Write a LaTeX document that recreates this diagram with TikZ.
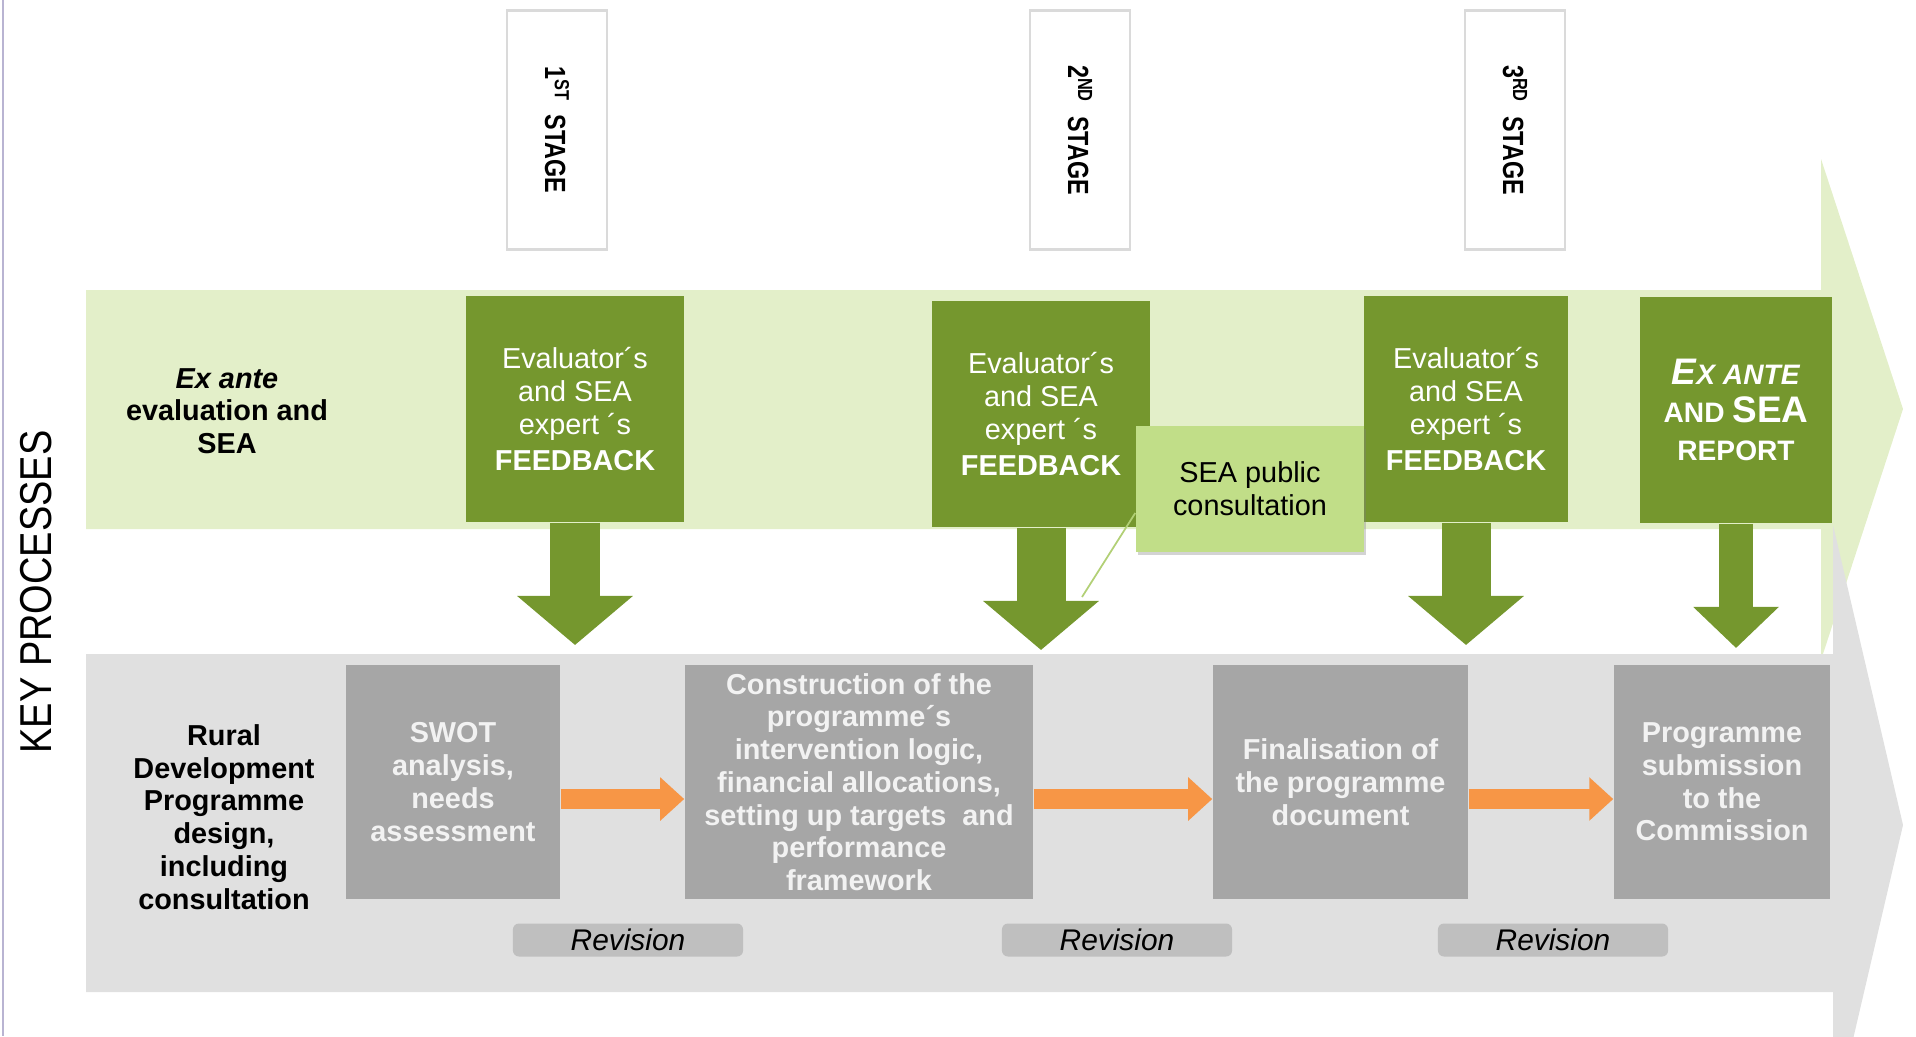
\documentclass[tikz,border=0pt]{standalone}
\usepackage{fontspec}
\setmainfont{Liberation Sans}
\usetikzlibrary{arrows.meta,shadows}
\definecolor{darkgreen}{RGB}{117,151,46}
\definecolor{palegreen}{RGB}{227,239,201}
\definecolor{seagreen}{RGB}{193,222,136}
\definecolor{bandgray}{RGB}{224,224,224}
\definecolor{boxgray}{RGB}{166,166,166}
\definecolor{pillgray}{RGB}{191,191,191}
\definecolor{arroworange}{RGB}{247,150,70}
\definecolor{stageline}{RGB}{218,218,218}
\definecolor{edgeline}{RGB}{185,180,210}
\newcommand{\txt}{\fontsize{8.2}{9.3}\selectfont}
\newcommand{\stagetxt}[2]{\fontsize{8.3}{10}\selectfont\bfseries\scalebox{0.8}[1]{#1\textsuperscript{#2}\ \ STAGE}}
\begin{document}
\begin{tikzpicture}
  [x=0.01cm,y=-0.01cm,
   stagebox/.style={draw=stageline,line width=0.8pt,fill=white,rotate=-90,minimum width=2.39cm,minimum height=1cm},
   feedback/.style={fill=darkgreen,text=white,align=center,minimum height=2.26cm,inner sep=0pt,font=\txt},
   process/.style={fill=boxgray,text=white!95!black,align=center,minimum height=2.34cm,inner sep=0pt,font=\txt\bfseries},
   revision/.style={fill=pillgray,rounded corners=0.06cm,minimum width=2.3cm,minimum height=0.33cm,inner sep=0pt,font=\fontsize{8.5}{10}\selectfont\itshape},
   bandlabel/.style={align=center,font=\txt\bfseries},
   greenarrow/.style={darkgreen,line width=0.49cm,-{Triangle[width=1.13cm,length=0.49cm]}},
   orangearrow/.style={arroworange,line width=0.2cm,-{Triangle[width=0.42cm,length=0.24cm]}}]
\useasboundingbox (0,0) rectangle (1916,1036);
\clip (0,0) rectangle (1916,1036);

\draw [edgeline,line width=0.4pt] (3,0) -- (3,1036);

\fill [palegreen] (86,290) -- (1821,290) -- (1821,159) -- (1903,409) -- (1821,660) -- (1821,529) -- (86,529) -- cycle;
\fill [bandgray] (86,654) -- (1833,654) -- (1833,525) -- (1903,825) -- (1833,1125) -- (1833,992) -- (86,992) -- cycle;

\node (kp) [rotate=90] at (36,592) {\fontsize{12.7}{14}\selectfont\scalebox{0.85}[1]{KEY PROCESSES}};

\node (s1)[stagebox] at (557,130) {\stagetxt{1}{ST}};
\node (s2)[stagebox] at (1080,130) {\stagetxt{2}{ND}};
\node (s3)[stagebox] at (1515,130) {\stagetxt{3}{RD}};

\node (exante)[bandlabel] at (227,411) {\textit{Ex ante}\\evaluation and\\SEA};
\node (rdp)[bandlabel] at (224,817) {Rural\\Development\\Programme\\design,\\including\\consultation};

\node (fb1)[feedback,minimum width=2.18cm] at (575,409) {Evaluator´s\\and SEA\\expert ´s\\[1pt]\textbf{FEEDBACK}};
\node (fb2)[feedback,minimum width=2.18cm] at (1041,414) {Evaluator´s\\and SEA\\expert ´s\\[1pt]\textbf{FEEDBACK}};
\node (fb3)[feedback,minimum width=2.03cm] at (1466,409) {Evaluator´s\\and SEA\\expert ´s\\[1pt]\textbf{FEEDBACK}};
\node (report)[feedback,minimum width=1.92cm,font=\fontsize{8}{10.8}\selectfont\bfseries] at (1736,410)
  {\textit{{\fontsize{10.5}{10.8}\selectfont E}X ANTE}\\AND {\fontsize{10.5}{10.8}\selectfont SEA}\\REPORT};

\node (sea)[fill=seagreen,align=center,minimum width=2.28cm,minimum height=1.25cm,font=\txt,
  drop shadow={opacity=0.35,shadow xshift=0.02cm,shadow yshift=-0.03cm}] at (1250,489) {SEA public\\consultation};

\coordinate (t1) at (575,645);
\coordinate (t2) at (1041,650);
\coordinate (t3) at (1466,645);
\coordinate (t4) at (1736,648);
\coordinate (c2) at (1082,597);

\path [greenarrow] (fb1) edge (t1);
\path [greenarrow] (fb2) edge (t2);
\path [greenarrow] (fb3) edge (t3);
\path [greenarrow,line width=0.34cm,-{Triangle[width=0.83cm,length=0.41cm]}] (report) edge (t4);
\path [seagreen!80!darkgreen,line width=0.5pt] ([yshift=-0.24cm]sea.west) edge (c2);

\node (swot)[process,minimum width=2.14cm] at (453,782) {SWOT\\analysis,\\needs\\assessment};
\node (constr)[process,minimum width=3.48cm] at (859,782) {Construction of the\\programme´s\\intervention logic,\\financial allocations,\\setting up targets \ and\\performance\\framework};
\node (final)[process,minimum width=2.55cm] at (1340.5,782) {Finalisation of\\the programme\\document};
\node (submit)[process,minimum width=2.16cm] at (1722,782) {Programme\\submission\\to the\\Commission};

\path [orangearrow] ([yshift=-0.17cm]swot.east) edge ([yshift=-0.17cm]constr.west);
\path [orangearrow] ([yshift=-0.17cm]constr.east) edge ([yshift=-0.17cm]final.west);
\path [orangearrow] ([yshift=-0.17cm]final.east) edge ([yshift=-0.17cm]submit.west);

\node (r1)[revision] at (628,940) {Revision};
\node (r2)[revision] at (1117,940) {Revision};
\node (r3)[revision] at (1553,940) {Revision};
\end{tikzpicture}
\end{document}
